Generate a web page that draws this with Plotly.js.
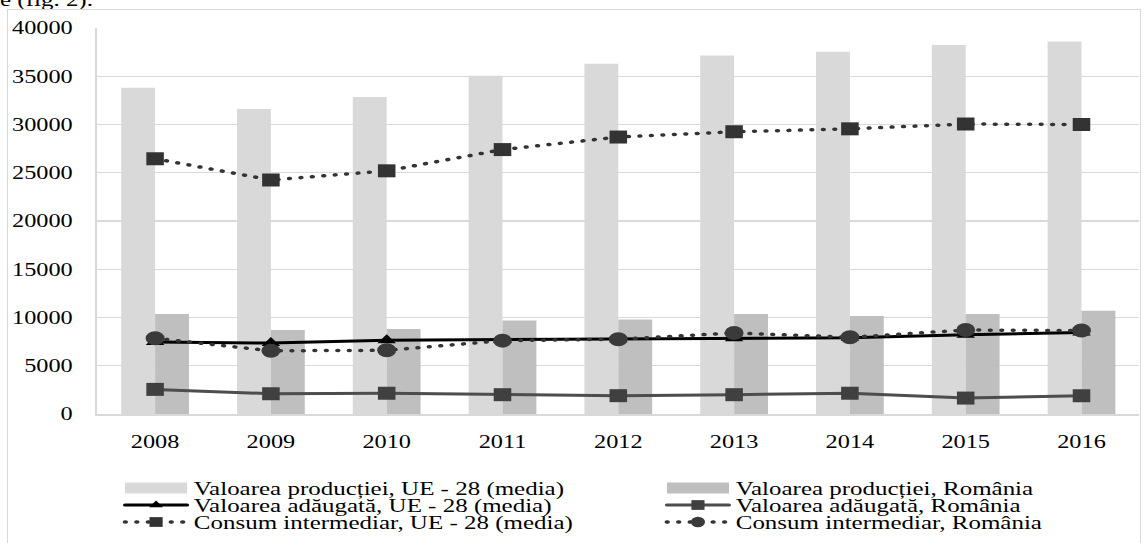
<!DOCTYPE html>
<html>
<head>
<meta charset="utf-8">
<script src="https://cdn.plot.ly/plotly-3.0.1.min.js"></script>
<style>
  html, body { margin: 0; padding: 0; background: #ffffff; overflow: hidden; width: 1147px; height: 543px; }
  #wrap { position: absolute; left: 0; top: 0; width: 850px; height: 543px; transform: scaleX(1.35); transform-origin: 0 0; }
  #chart { width: 850px; height: 543px; }
  #toptext { position: absolute; left: 0; top: -9px; font-family: "Liberation Serif", "Times New Roman", serif; font-size: 18.5px; line-height: 18px; color: #000; white-space: nowrap; z-index: 3; }
  #frame { position: absolute; left: 7px; top: 9px; width: 1132px; height: 600px; border: 1px solid #d9d9d9; pointer-events: none; z-index: 2; }
  .js-line { stroke-linecap: round; }
</style>
</head>
<body>
<div id="wrap">
  <div id="chart"></div>
  <div id="toptext">e (fig. 2).</div>
</div>
<div id="frame"></div>
<script>
// ---- data ----
var years = ['2008', '2009', '2010', '2011', '2012', '2013', '2014', '2015', '2016'];
var productieUE = [33800, 31600, 32850, 35050, 36300, 37150, 37550, 38250, 38600];
var productieRO = [10350, 8700, 8800, 9700, 9800, 10350, 10150, 10350, 10700];
var adaugataUE = [7450, 7350, 7650, 7700, 7750, 7850, 7900, 8200, 8450];
var adaugataRO = [2550, 2100, 2150, 2000, 1900, 2000, 2150, 1650, 1900];
var consumUE = [26450, 24250, 25200, 27400, 28700, 29250, 29550, 30050, 30000];
var consumRO = [7850, 6550, 6600, 7600, 7750, 8400, 7950, 8700, 8650];
var yTicks = [0, 5000, 10000, 15000, 20000, 25000, 30000, 35000, 40000];

var names = [
  'Valoarea producției, UE - 28 (media)',
  'Valoarea producției, România',
  'Valoarea adăugată, UE - 28 (media)',
  'Valoarea adăugată, România',
  'Consum intermediar, UE - 28 (media)',
  'Consum intermediar, România'
];

var FONT = '"Liberation Serif", "Times New Roman", serif';
var DOT = '0.5px,8px';

var traces = [
  { type: 'bar', x: years, y: productieUE, name: names[0], marker: { color: '#d9d9d9' }, hoverinfo: 'none' },
  { type: 'bar', x: years, y: productieRO, name: names[1], marker: { color: '#bfbfbf' }, hoverinfo: 'none' },
  { type: 'scatter', mode: 'lines+markers', x: years, y: adaugataUE, name: names[2], cliponaxis: false,
    line: { color: '#000000', width: 3 }, marker: { symbol: 'triangle-up', size: 12, color: '#000000' } },
  { type: 'scatter', mode: 'lines+markers', x: years, y: adaugataRO, name: names[3], cliponaxis: false,
    line: { color: '#4d4d4d', width: 3 }, marker: { symbol: 'square', size: 13, color: '#404040' } },
  { type: 'scatter', mode: 'lines+markers', x: years, y: consumUE, name: names[4], cliponaxis: false,
    line: { color: '#333333', width: 3.5, dash: DOT }, marker: { symbol: 'square', size: 13, color: '#333333' } },
  { type: 'scatter', mode: 'lines+markers', x: years, y: consumRO, name: names[5], cliponaxis: false,
    line: { color: '#333333', width: 3.5, dash: DOT }, marker: { symbol: 'circle', size: 14, color: '#3a3a3a' } }
];

var layout = {
  width: 850,
  height: 543,
  margin: { l: 72, r: 5.6, t: 27.9, b: 128.7, pad: 0, autoexpand: false },
  paper_bgcolor: 'rgba(0,0,0,0)',
  plot_bgcolor: 'rgba(0,0,0,0)',
  font: { family: FONT, size: 18, color: '#000000' },
  barmode: 'group',
  bargap: 0.415,
  bargroupgap: 0,
  showlegend: true,
  legend: {
    orientation: 'h', x: 0, y: -0.2, xanchor: 'left', yanchor: 'top',
    itemwidth: 46, entrywidth: 340, bgcolor: 'rgba(0,0,0,0)', borderwidth: 0,
    font: { family: FONT, size: 18.5, color: '#000000' }, traceorder: 'normal', itemclick: false, itemdoubleclick: false
  },
  xaxis: {
    type: 'category', categoryarray: years, range: [-0.5, years.length - 0.5], autorange: false,
    showline: true, linecolor: '#d9d9d9', linewidth: 1.5,
    showgrid: false, ticks: '', ticklabelstandoff: 11,
    tickfont: { family: FONT, size: 18, color: '#000000' }
  },
  yaxis: {
    range: [0, 40000], autorange: false, tickvals: yTicks, ticktext: yTicks.map(String),
    showgrid: true, gridcolor: '#d9d9d9', gridwidth: 1.3,
    showline: true, linecolor: '#d9d9d9', linewidth: 1.5,
    zeroline: false, ticks: '', ticklabelstandoff: 13,
    tickfont: { family: FONT, size: 18, color: '#000000' }
  },
  hovermode: false
};

// legend layout (style only): two columns, three rows, tight Excel-like spacing
var LEG_X = [87.6, 489];
var LEG_Y = [488, 505, 522];

function fixLegend() {
  var gd = document.getElementById('chart');
  var leg = gd.querySelector('g.legend');
  if (!leg) return;
  leg.setAttribute('transform', 'translate(0,0)');
  var sb = leg.querySelector('g.scrollbox');
  if (sb) { sb.removeAttribute('clip-path'); sb.setAttribute('transform', 'translate(0,0)'); }
  leg.querySelectorAll('g.groups').forEach(function (g) { g.setAttribute('transform', 'translate(0,0)'); });
  var bg = leg.querySelector('rect.bg'); if (bg) bg.style.display = 'none';
  var sc = leg.querySelector('rect.scrollbar'); if (sc) sc.style.display = 'none';
  var items = leg.querySelectorAll('g.traces');
  items.forEach(function (it, i) {
    var col = i % 2, row = Math.floor(i / 2);
    it.setAttribute('transform', 'translate(' + LEG_X[col] + ',' + LEG_Y[row] + ')');
    if (i < 2) {
      it.querySelectorAll('g.legendpoints path').forEach(function (p) {
        p.setAttribute('d', 'M23,5.5H-23V-5.5H23Z');
      });
    } else {
      it.querySelectorAll('g.legendpoints path.scatterpts').forEach(function (p) {
        var t = p.getAttribute('transform') || '';
        if (t.indexOf('scale') < 0) p.setAttribute('transform', t + ' scale(0.75)');
      });
    }
  });
}

Plotly.newPlot('chart', traces, layout, { staticPlot: true, displayModeBar: false }).then(function () {
  fixLegend();
  setTimeout(fixLegend, 50);
});
</script>
</body>
</html>
